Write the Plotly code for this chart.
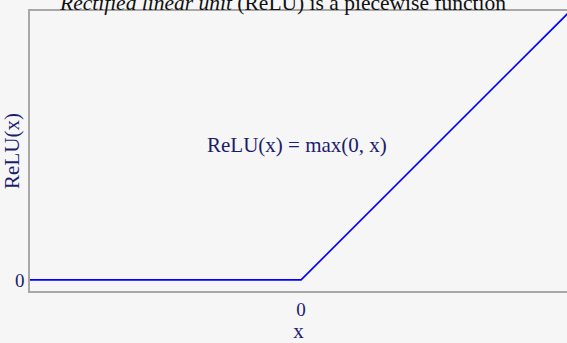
import numpy as np
import plotly.graph_objects as go

# ReLU curve sample points
x_vals = [-1.0, 0.0, 1.0]
y_vals = [0.0, 0.0, 1.0]

x_ticks = [0]
y_ticks = [0]
tick_text = ["0"]

title_html = "<i>Rectified linear unit</i> (ReLU) is a piecewise function"
formula = "ReLU(x) = max(0, x)"

navy = "#1c1c6e"
bg = "#f6f6f6"
font_family = "Liberation Serif, DejaVu Serif, serif"

fig = go.Figure()
fig.add_trace(go.Scatter(
    x=x_vals, y=y_vals, mode="lines",
    line=dict(color="#0000ff", width=1.6),
    hoverinfo="skip", showlegend=False,
))

fig.add_annotation(
    x=-0.015, y=0.5, xref="x", yref="y",
    text=formula, showarrow=False,
    font=dict(family=font_family, size=21, color=navy),
)

fig.add_annotation(
    x=0.471, y=1.0, xref="paper", yref="paper",
    xanchor="center", yanchor="bottom", yshift=-6,
    text=title_html, showarrow=False,
    font=dict(family=font_family, size=21.5, color="#111111"),
)

fig.update_layout(
    width=567, height=343,
    margin=dict(l=30, r=0, t=11, b=52),
    paper_bgcolor=bg, plot_bgcolor=bg,
    font=dict(family=font_family, color=navy),
    xaxis=dict(
        range=[-1.0, 0.981], tickvals=x_ticks, ticktext=tick_text,
        showgrid=False, zeroline=False,
        showline=True, linecolor="#a8a8a8", linewidth=1.5, mirror=True,
        ticks="", tickfont=dict(size=19, color=navy),
        title=dict(text="x", font=dict(size=21, color=navy), standoff=4),
        fixedrange=True,
    ),
    yaxis=dict(
        range=[-0.041, 0.993], tickvals=y_ticks, ticktext=tick_text,
        showgrid=False, zeroline=False,
        showline=True, linecolor="#a8a8a8", linewidth=1.5,
        ticks="", tickfont=dict(size=19, color=navy),
        title=dict(text="ReLU(x)", font=dict(size=21, color=navy), standoff=0),
        fixedrange=True,
    ),
)

fig.write_html("out.html")
